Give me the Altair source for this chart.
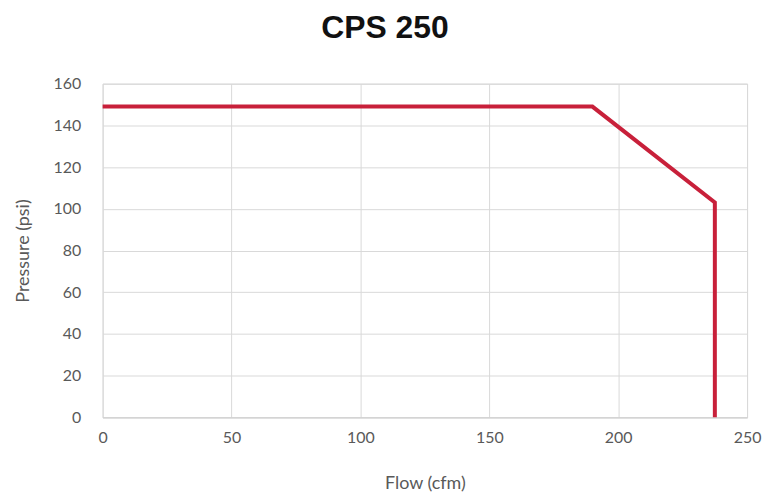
import altair as alt
import pandas as pd

flow = [0, 190, 237.5, 237.5]
pressure = [149, 149, 103, 0]
order = [0, 1, 2, 3]

df = pd.DataFrame({"flow": flow, "pressure": pressure, "order": order})

chart = alt.Chart(df).mark_line(color="#C8203A", strokeWidth=4, strokeJoin="miter").encode(
    x=alt.X("flow:Q", title="Flow (cfm)",
            scale=alt.Scale(domain=[0, 250], nice=False),
            axis=alt.Axis(values=[0, 50, 100, 150, 200, 250], labelFlush=False)),
    y=alt.Y("pressure:Q", title="Pressure (psi)",
            scale=alt.Scale(domain=[0, 160], nice=False),
            axis=alt.Axis(values=[0, 20, 40, 60, 80, 100, 120, 140, 160], labelFlush=False)),
    order="order:Q",
).properties(
    width=647, height=335,
    title=alt.TitleParams("CPS 250", font="Liberation Sans", fontSize=32, fontWeight="bold",
                          color="#111111", anchor="middle", dx=-40, offset=31),
    autosize=alt.AutoSizeParams(type="none"),
    padding={"left": 95, "top": 75, "right": 18, "bottom": 80},
).configure_view(stroke="#d9d9d9", strokeWidth=1).configure_axis(
    grid=True, gridColor="#d9d9d9", gridWidth=1, domain=False, ticks=False,
    labelFont="Lato", labelFontSize=16, labelColor="#595959",
    titleFont="Lato", titleFontSize=18, titleColor="#595959", titleFontWeight="normal",
).configure_axisX(labelPadding=12, titlePadding=29, domain=True, domainColor="#d0d0d0").configure_axisY(labelPadding=22, titlePadding=21)

chart.save("out.html", embed_options={"renderer": "svg", "actions": False})
